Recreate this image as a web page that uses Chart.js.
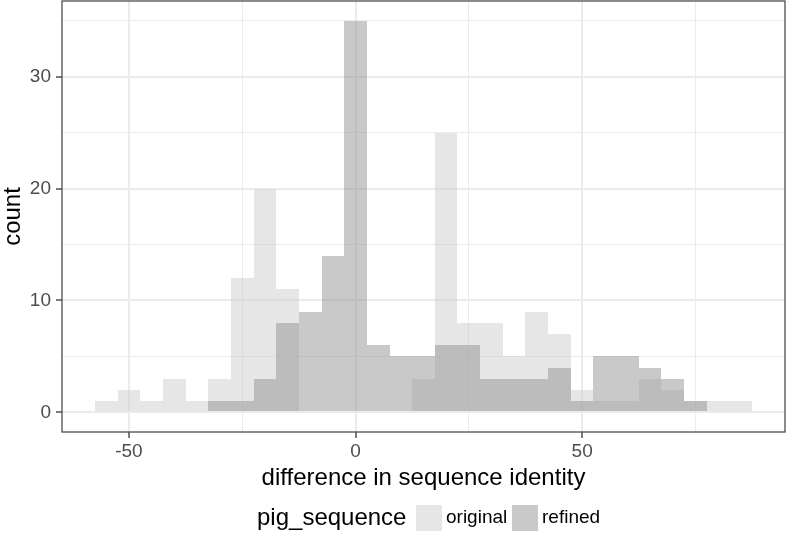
<!DOCTYPE html>
<html>
<head>
<meta charset="utf-8">
<script src="https://cdn.jsdelivr.net/npm/chart.js@4/dist/chart.umd.min.js"></script>
<style>
    body { margin: 0; background: #fff; }
    #wrap { width: 787px; height: 536px; }
</style>
</head>
<body>
<div id="wrap"><canvas id="histChart" width="787" height="536"></canvas></div>
<script>
// bin centres (bin width 5)
const binCenters = [-55, -50, -45, -40, -35, -30, -25, -20, -15, -10, -5, 0, 5, 10, 15,
    20, 25, 30, 35, 40, 45, 50, 55, 60, 65, 70, 75, 80, 85];
const originalCounts = [1, 2, 1, 3, 1, 3, 12, 20, 11, 0, 0, 0, 0, 0, 3,
    25, 8, 8, 5, 9, 7, 2, 1, 1, 3, 2, 1, 1, 1];
const refinedCounts = [0, 0, 0, 0, 0, 1, 1, 3, 8, 9, 14, 35, 6, 5, 5,
    6, 6, 3, 3, 3, 4, 1, 5, 5, 4, 3, 1, 0, 0];
const seriesNames = ['original', 'refined'];
const xTicks = [-50, -25, 0, 25, 50, 75];
const yTicks = [0, 5, 10, 15, 20, 25, 30, 35];

const FONT = "'Liberation Sans', Arial, Helvetica, sans-serif";
const fillOriginal = 'rgba(205, 205, 205, 0.5)';
const fillRefined = 'rgba(147, 147, 147, 0.5)';

// snap bar edges to whole pixels so neighbouring bins meet without seams
const snapBars = {
    id: 'snapBars',
    beforeDatasetsDraw(chart) {
        chart.getSortedVisibleDatasetMetas().forEach(meta => {
            meta.data.forEach(bar => {
                const l = Math.round(bar.x - bar.width / 2);
                const r = Math.round(bar.x + bar.width / 2);
                bar.x = (l + r) / 2;
                bar.width = r - l;
                bar.y = Math.round(bar.y);
                bar.base = Math.round(bar.base);
            });
        });
    }
};

// panel border + ggplot-like legend at the bottom
const panelAndLegend = {
    id: 'panelAndLegend',
    afterDatasetsDraw(chart) {
        const { ctx, chartArea: a } = chart;
        ctx.save();
        ctx.strokeStyle = '#4d4d4d';
        ctx.lineWidth = 1.3;
        ctx.strokeRect(a.left, a.top, a.right - a.left, a.bottom - a.top);
        ctx.restore();
    },
    afterDraw(chart) {
        const ctx = chart.ctx;
        const ds = chart.data.datasets;
        ctx.save();
        ctx.textBaseline = 'middle';
        ctx.textAlign = 'left';
        ctx.font = '24px ' + FONT;
        const title = 'pig_sequence';
        const wTitle = ctx.measureText(title).width;
        ctx.font = '19px ' + FONT;
        const wItems = ds.map(d => ctx.measureText(d.label).width);
        const sw = 26;
        const total = wTitle + 10 + (sw + 4 + wItems[0]) + 5 + (sw + 4 + wItems[1]);
        let x = Math.round(429 - total / 2);
        const cy = 518;
        ctx.fillStyle = '#000';
        ctx.font = '24px ' + FONT;
        ctx.fillText(title, x, cy);
        x = Math.round(x + wTitle + 10);
        ctx.font = '19px ' + FONT;
        ds.forEach((d, i) => {
            ctx.fillStyle = '#fff';
            ctx.fillRect(x, cy - 13, sw, 26);
            ctx.fillStyle = d.backgroundColor;
            ctx.fillRect(x, cy - 13, sw, 26);
            x += sw + 4;
            ctx.fillStyle = '#000';
            ctx.fillText(d.label, x, cy);
            x = Math.round(x + wItems[i] + 5);
        });
        ctx.restore();
    }
};

const ctx = document.getElementById('histChart').getContext('2d');
new Chart(ctx, {
    type: 'bar',
    data: {
        datasets: [
            {
                label: seriesNames[0],
                data: binCenters.map((c, i) => ({ x: c, y: originalCounts[i] })),
                backgroundColor: fillOriginal,
                borderWidth: 0,
                inflateAmount: 0,
                grouped: false,
                order: 2,
                barPercentage: 1,
                categoryPercentage: 1
            },
            {
                label: seriesNames[1],
                data: binCenters.map((c, i) => ({ x: c, y: refinedCounts[i] })),
                backgroundColor: fillRefined,
                borderWidth: 0,
                inflateAmount: 0,
                grouped: false,
                order: 1,
                barPercentage: 1,
                categoryPercentage: 1
            }
        ]
    },
    options: {
        responsive: false,
        animation: false,
        layout: { padding: { top: 1, right: 2, bottom: 0, left: 0 } },
        plugins: {
            legend: { display: false },
            tooltip: { enabled: false }
        },
        scales: {
            x: {
                type: 'linear',
                min: -64.75,
                max: 94.75,
                offset: false,
                afterBuildTicks: (scale) => { scale.ticks = xTicks.map(v => ({ value: v })); },
                afterFit: (scale) => {
                    scale.height = 104;
                    scale.paddingLeft = 0;
                    scale.paddingRight = 0;
                },
                border: { display: false },
                grid: {
                    offset: false,
                    color: '#ebebeb',
                    lineWidth: (c) => (c.tick && c.tick.value % 50 === 0 ? 2 : 1),
                    tickColor: (c) => (c.tick && c.tick.value % 50 === 0 ? '#333333' : 'rgba(0,0,0,0)'),
                    tickWidth: 1.3,
                    tickLength: 6
                },
                ticks: {
                    autoSkip: false,
                    maxRotation: 0,
                    padding: 2,
                    color: '#4d4d4d',
                    font: { family: FONT, size: 19 },
                    callback: (v) => (v % 50 === 0 ? String(v) : '')
                },
                title: {
                    display: true,
                    text: 'difference in sequence identity',
                    color: '#000',
                    font: { family: FONT, size: 24 },
                    padding: { top: 0, bottom: 43 }
                }
            },
            y: {
                min: -1.75,
                max: 36.75,
                afterBuildTicks: (scale) => { scale.ticks = yTicks.map(v => ({ value: v })); },
                afterFit: (scale) => {
                    scale.width = 62;
                    scale.paddingTop = 0;
                    scale.paddingBottom = 0;
                },
                border: { display: false },
                grid: {
                    color: '#ebebeb',
                    lineWidth: (c) => (c.tick && c.tick.value % 10 === 0 ? 2 : 1),
                    tickColor: (c) => (c.tick && c.tick.value % 10 === 0 ? '#333333' : 'rgba(0,0,0,0)'),
                    tickWidth: 1.3,
                    tickLength: 6
                },
                ticks: {
                    autoSkip: false,
                    padding: 5,
                    color: '#4d4d4d',
                    font: { family: FONT, size: 19 },
                    callback: (v) => (v % 10 === 0 ? String(v) : '')
                },
                title: {
                    display: true,
                    text: 'count',
                    color: '#000',
                    font: { family: FONT, size: 24, lineHeight: 1.1 },
                    padding: { top: 0, bottom: 0 }
                }
            }
        }
    },
    plugins: [snapBars, panelAndLegend]
});
</script>
</body>
</html>
